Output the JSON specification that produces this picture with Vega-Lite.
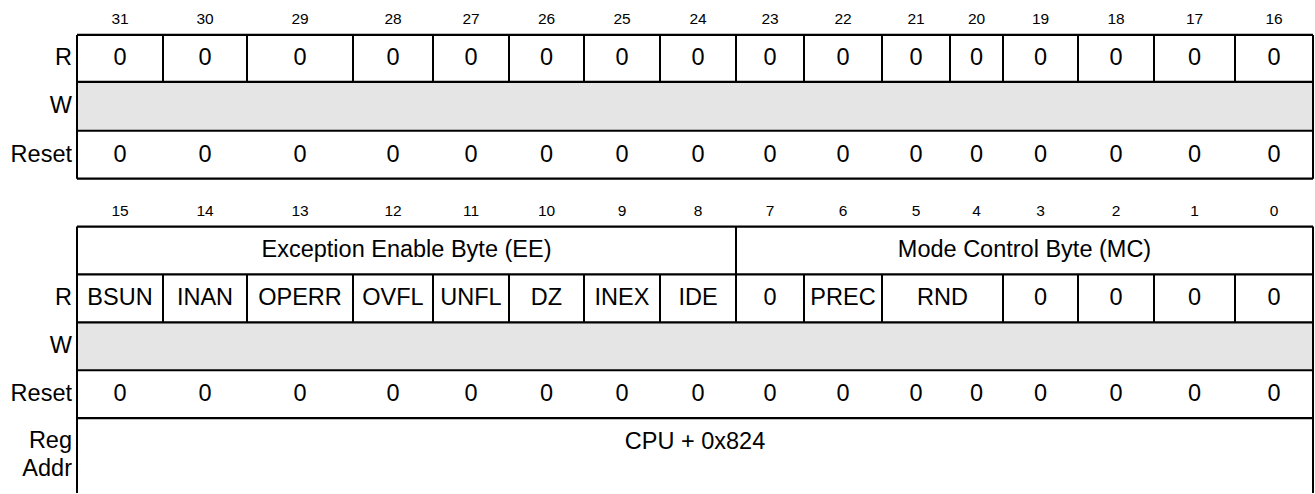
{
  "$schema": "https://vega.github.io/schema/vega-lite/v6.json",
  "width": 1315,
  "height": 494,
  "padding": 0,
  "autosize": {"type": "fit", "contains": "padding"},
  "background": "white",
  "config": {
    "view": {"stroke": null},
    "text": {"font": "Liberation Sans", "color": "#000000", "baseline": "middle"}
  },
  "datasets": {
    "shaded": [
      {"x": 77, "x2": 1313, "y": 82, "y2": 131},
      {"x": 77, "x2": 1313, "y": 323, "y2": 371}
    ],
    "hlines": [
      {"x": 77, "x2": 1313, "y": 35},
      {"x": 77, "x2": 1313, "y": 82},
      {"x": 77, "x2": 1313, "y": 131},
      {"x": 77, "x2": 1313, "y": 179},
      {"x": 77, "x2": 1313, "y": 227},
      {"x": 77, "x2": 1313, "y": 275},
      {"x": 77, "x2": 1313, "y": 323},
      {"x": 77, "x2": 1313, "y": 371},
      {"x": 77, "x2": 1313, "y": 419}
    ],
    "vlines": [
      {"x": 77, "y": 35, "y2": 179},
      {"x": 1313, "y": 35, "y2": 179},
      {"x": 77, "y": 227, "y2": 494},
      {"x": 1313, "y": 227, "y2": 494},
      {"x": 163, "y": 35, "y2": 82},
      {"x": 247, "y": 35, "y2": 82},
      {"x": 353, "y": 35, "y2": 82},
      {"x": 433, "y": 35, "y2": 82},
      {"x": 509, "y": 35, "y2": 82},
      {"x": 584, "y": 35, "y2": 82},
      {"x": 660, "y": 35, "y2": 82},
      {"x": 736, "y": 35, "y2": 82},
      {"x": 804, "y": 35, "y2": 82},
      {"x": 882, "y": 35, "y2": 82},
      {"x": 950, "y": 35, "y2": 82},
      {"x": 1003, "y": 35, "y2": 82},
      {"x": 1078, "y": 35, "y2": 82},
      {"x": 1154, "y": 35, "y2": 82},
      {"x": 1235, "y": 35, "y2": 82},
      {"x": 736, "y": 227, "y2": 275},
      {"x": 163, "y": 275, "y2": 323},
      {"x": 247, "y": 275, "y2": 323},
      {"x": 353, "y": 275, "y2": 323},
      {"x": 433, "y": 275, "y2": 323},
      {"x": 509, "y": 275, "y2": 323},
      {"x": 584, "y": 275, "y2": 323},
      {"x": 660, "y": 275, "y2": 323},
      {"x": 736, "y": 275, "y2": 323},
      {"x": 804, "y": 275, "y2": 323},
      {"x": 882, "y": 275, "y2": 323},
      {"x": 1003, "y": 275, "y2": 323},
      {"x": 1078, "y": 275, "y2": 323},
      {"x": 1154, "y": 275, "y2": 323},
      {"x": 1235, "y": 275, "y2": 323}
    ],
    "bits": [
      {"x": 120, "y": 19.5, "t": "31"}, {"x": 205, "y": 19.5, "t": "30"},
      {"x": 300, "y": 19.5, "t": "29"}, {"x": 393, "y": 19.5, "t": "28"},
      {"x": 471, "y": 19.5, "t": "27"}, {"x": 546.5, "y": 19.5, "t": "26"},
      {"x": 622, "y": 19.5, "t": "25"}, {"x": 698, "y": 19.5, "t": "24"},
      {"x": 770, "y": 19.5, "t": "23"}, {"x": 843, "y": 19.5, "t": "22"},
      {"x": 916, "y": 19.5, "t": "21"}, {"x": 976.5, "y": 19.5, "t": "20"},
      {"x": 1040.5, "y": 19.5, "t": "19"}, {"x": 1116, "y": 19.5, "t": "18"},
      {"x": 1194.5, "y": 19.5, "t": "17"}, {"x": 1274, "y": 19.5, "t": "16"},
      {"x": 120, "y": 211.5, "t": "15"}, {"x": 205, "y": 211.5, "t": "14"},
      {"x": 300, "y": 211.5, "t": "13"}, {"x": 393, "y": 211.5, "t": "12"},
      {"x": 471, "y": 211.5, "t": "11"}, {"x": 546.5, "y": 211.5, "t": "10"},
      {"x": 622, "y": 211.5, "t": "9"}, {"x": 698, "y": 211.5, "t": "8"},
      {"x": 770, "y": 211.5, "t": "7"}, {"x": 843, "y": 211.5, "t": "6"},
      {"x": 916, "y": 211.5, "t": "5"}, {"x": 976.5, "y": 211.5, "t": "4"},
      {"x": 1040.5, "y": 211.5, "t": "3"}, {"x": 1116, "y": 211.5, "t": "2"},
      {"x": 1194.5, "y": 211.5, "t": "1"}, {"x": 1274, "y": 211.5, "t": "0"}
    ],
    "cells": [
      {"x": 120, "y": 58.5, "t": "0"}, {"x": 205, "y": 58.5, "t": "0"},
      {"x": 300, "y": 58.5, "t": "0"}, {"x": 393, "y": 58.5, "t": "0"},
      {"x": 471, "y": 58.5, "t": "0"}, {"x": 546.5, "y": 58.5, "t": "0"},
      {"x": 622, "y": 58.5, "t": "0"}, {"x": 698, "y": 58.5, "t": "0"},
      {"x": 770, "y": 58.5, "t": "0"}, {"x": 843, "y": 58.5, "t": "0"},
      {"x": 916, "y": 58.5, "t": "0"}, {"x": 976.5, "y": 58.5, "t": "0"},
      {"x": 1040.5, "y": 58.5, "t": "0"}, {"x": 1116, "y": 58.5, "t": "0"},
      {"x": 1194.5, "y": 58.5, "t": "0"}, {"x": 1274, "y": 58.5, "t": "0"},
      {"x": 120, "y": 155, "t": "0"}, {"x": 205, "y": 155, "t": "0"},
      {"x": 300, "y": 155, "t": "0"}, {"x": 393, "y": 155, "t": "0"},
      {"x": 471, "y": 155, "t": "0"}, {"x": 546.5, "y": 155, "t": "0"},
      {"x": 622, "y": 155, "t": "0"}, {"x": 698, "y": 155, "t": "0"},
      {"x": 770, "y": 155, "t": "0"}, {"x": 843, "y": 155, "t": "0"},
      {"x": 916, "y": 155, "t": "0"}, {"x": 976.5, "y": 155, "t": "0"},
      {"x": 1040.5, "y": 155, "t": "0"}, {"x": 1116, "y": 155, "t": "0"},
      {"x": 1194.5, "y": 155, "t": "0"}, {"x": 1274, "y": 155, "t": "0"},
      {"x": 406.5, "y": 251, "t": "Exception Enable Byte (EE)"},
      {"x": 1024.5, "y": 251, "t": "Mode Control Byte (MC)"},
      {"x": 120, "y": 299, "t": "BSUN"}, {"x": 205, "y": 299, "t": "INAN"},
      {"x": 300, "y": 299, "t": "OPERR"}, {"x": 393, "y": 299, "t": "OVFL"},
      {"x": 471, "y": 299, "t": "UNFL"}, {"x": 546.5, "y": 299, "t": "DZ"},
      {"x": 622, "y": 299, "t": "INEX"}, {"x": 698, "y": 299, "t": "IDE"},
      {"x": 770, "y": 299, "t": "0"}, {"x": 843, "y": 299, "t": "PREC"},
      {"x": 942.5, "y": 299, "t": "RND"}, {"x": 1040.5, "y": 299, "t": "0"},
      {"x": 1116, "y": 299, "t": "0"}, {"x": 1194.5, "y": 299, "t": "0"},
      {"x": 1274, "y": 299, "t": "0"},
      {"x": 120, "y": 395, "t": "0"}, {"x": 205, "y": 395, "t": "0"},
      {"x": 300, "y": 395, "t": "0"}, {"x": 393, "y": 395, "t": "0"},
      {"x": 471, "y": 395, "t": "0"}, {"x": 546.5, "y": 395, "t": "0"},
      {"x": 622, "y": 395, "t": "0"}, {"x": 698, "y": 395, "t": "0"},
      {"x": 770, "y": 395, "t": "0"}, {"x": 843, "y": 395, "t": "0"},
      {"x": 916, "y": 395, "t": "0"}, {"x": 976.5, "y": 395, "t": "0"},
      {"x": 1040.5, "y": 395, "t": "0"}, {"x": 1116, "y": 395, "t": "0"},
      {"x": 1194.5, "y": 395, "t": "0"}, {"x": 1274, "y": 395, "t": "0"},
      {"x": 695, "y": 443, "t": "CPU + 0x824"}
    ],
    "labels": [
      {"x": 72, "y": 58.5, "t": "R"},
      {"x": 72, "y": 106.5, "t": "W"},
      {"x": 72, "y": 155, "t": "Reset"},
      {"x": 72, "y": 299, "t": "R"},
      {"x": 72, "y": 347, "t": "W"},
      {"x": 72, "y": 395, "t": "Reset"},
      {"x": 72, "y": 442, "t": "Reg"},
      {"x": 72, "y": 470, "t": "Addr"}
    ]
  },
  "layer": [
    {
      "data": {"name": "shaded"},
      "mark": {"type": "rect", "fill": "#e5e5e5", "stroke": null},
      "encoding": {
        "x": {"field": "x", "type": "quantitative", "scale": {"domain": [0, 1315], "nice": false, "zero": false}, "axis": null},
        "x2": {"field": "x2"},
        "y": {"field": "y", "type": "quantitative", "scale": {"domain": [0, 494], "nice": false, "zero": false, "reverse": true}, "axis": null},
        "y2": {"field": "y2"}
      }
    },
    {
      "data": {"name": "hlines"},
      "mark": {"type": "rule", "color": "#000000", "strokeWidth": 2.2},
      "encoding": {
        "x": {"field": "x", "type": "quantitative", "scale": {"domain": [0, 1315], "nice": false, "zero": false}, "axis": null},
        "x2": {"field": "x2"},
        "y": {"field": "y", "type": "quantitative", "scale": {"domain": [0, 494], "nice": false, "zero": false, "reverse": true}, "axis": null}
      }
    },
    {
      "data": {"name": "vlines"},
      "mark": {"type": "rule", "color": "#000000", "strokeWidth": 2},
      "encoding": {
        "x": {"field": "x", "type": "quantitative", "scale": {"domain": [0, 1315], "nice": false, "zero": false}, "axis": null},
        "y": {"field": "y", "type": "quantitative", "scale": {"domain": [0, 494], "nice": false, "zero": false, "reverse": true}, "axis": null},
        "y2": {"field": "y2"}
      }
    },
    {
      "data": {"name": "bits"},
      "mark": {"type": "text", "fontSize": 15.5, "align": "center"},
      "encoding": {
        "x": {"field": "x", "type": "quantitative", "scale": {"domain": [0, 1315], "nice": false, "zero": false}, "axis": null},
        "y": {"field": "y", "type": "quantitative", "scale": {"domain": [0, 494], "nice": false, "zero": false, "reverse": true}, "axis": null},
        "text": {"field": "t", "type": "nominal"}
      }
    },
    {
      "data": {"name": "cells"},
      "mark": {"type": "text", "fontSize": 23.5, "align": "center"},
      "encoding": {
        "x": {"field": "x", "type": "quantitative", "scale": {"domain": [0, 1315], "nice": false, "zero": false}, "axis": null},
        "y": {"field": "y", "type": "quantitative", "scale": {"domain": [0, 494], "nice": false, "zero": false, "reverse": true}, "axis": null},
        "text": {"field": "t", "type": "nominal"}
      }
    },
    {
      "data": {"name": "labels"},
      "mark": {"type": "text", "fontSize": 23.5, "align": "right"},
      "encoding": {
        "x": {"field": "x", "type": "quantitative", "scale": {"domain": [0, 1315], "nice": false, "zero": false}, "axis": null},
        "y": {"field": "y", "type": "quantitative", "scale": {"domain": [0, 494], "nice": false, "zero": false, "reverse": true}, "axis": null},
        "text": {"field": "t", "type": "nominal"}
      }
    }
  ]
}
